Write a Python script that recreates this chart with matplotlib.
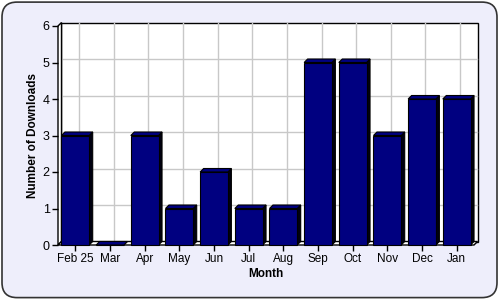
import matplotlib
matplotlib.use("Agg")
import matplotlib.pyplot as plt
from matplotlib.patches import Polygon, Rectangle, FancyBboxPatch

months = ["Feb 25", "Mar", "Apr", "May", "Jun", "Jul", "Aug", "Sep", "Oct", "Nov", "Dec", "Jan"]
downloads = [3, 0, 3, 1, 2, 1, 1, 5, 5, 3, 4, 4]
y_ticks = [0, 1, 2, 3, 4, 5, 6]

bar_color = "#000080"
side_color = "#000010"
bg_color = "#EEEEFB"

plt.rcParams["font.family"] = ["Liberation Sans", "DejaVu Sans"]

fig = plt.figure(figsize=(5, 3), dpi=100)
fig.patch.set_facecolor("white")

# rounded panel behind everything
panel = FancyBboxPatch((0.004, 0.008), 0.99, 0.985, boxstyle="round,pad=0,rounding_size=0.03",
                       transform=fig.transFigure, facecolor=bg_color, edgecolor="#333333",
                       linewidth=1.2, mutation_aspect=5 / 3, zorder=-5)
fig.patches.append(panel)

ax = fig.add_axes([58 / 500, 55 / 300, 416 / 500, 219 / 300])
ax.set_xlim(-0.5, 11.5)
ax.set_ylim(0, 6)
ax.patch.set_alpha(0)
for s in ax.spines.values():
    s.set_visible(False)

# depth of the 3d effect in data units (about 3.5 px)
dx = 3.5 * 12 / 416
dy = 3.5 * 6 / 219

# back wall
ax.add_patch(Rectangle((-0.5 + dx, dy), 12, 6, facecolor="white", edgecolor="black",
                       linewidth=1, clip_on=False, zorder=0))
for v in y_ticks[1:-1]:
    ax.plot([-0.5 + dx, 11.5 + dx], [v + dy, v + dy], color="#C8C8C8", lw=1, zorder=1, clip_on=False)
for i in range(len(months)):
    ax.plot([i + dx, i + dx], [dy, 6 + dy], color="#C8C8C8", lw=1, zorder=1, clip_on=False)

# left wall and floor
ax.add_patch(Polygon([(-0.5, 0), (-0.5 + dx, dy), (-0.5 + dx, 6 + dy), (-0.5, 6)],
                     closed=True, facecolor="white", edgecolor="black", lw=1, clip_on=False, zorder=1))
ax.add_patch(Polygon([(-0.5, 0), (11.5, 0), (11.5 + dx, dy), (-0.5 + dx, dy)],
                     closed=True, facecolor="white", edgecolor="black", lw=1, clip_on=False, zorder=1))

w = 0.8
for i, v in enumerate(downloads):
    x0 = i - w / 2
    x1 = i + w / 2
    ax.add_patch(Polygon([(x1, 0), (x1 + dx, dy), (x1 + dx, v + dy), (x1, v)],
                         closed=True, facecolor=side_color, edgecolor="black", lw=0.8, zorder=3, clip_on=False))
    ax.add_patch(Polygon([(x0, v), (x0 + dx, v + dy), (x1 + dx, v + dy), (x1, v)],
                         closed=True, facecolor=bar_color, edgecolor="black", lw=0.8, zorder=3, clip_on=False))
    ax.add_patch(Rectangle((x0, 0), w, v, facecolor=bar_color, edgecolor="black", lw=0.8, zorder=4, clip_on=False))

ax.set_xticks(range(len(months)))
ax.set_xticklabels(months, fontsize=8.5)
ax.set_yticks(y_ticks)
ax.set_yticklabels([str(t) for t in y_ticks], fontsize=9)
ax.tick_params(axis="both", length=4, width=1, color="black", pad=2)

ax.set_xlabel("Month", fontsize=8.5, fontweight="bold", labelpad=2)
ax.set_ylabel("Number of Downloads", fontsize=8.5, fontweight="bold", labelpad=3)

fig.savefig("out.png", dpi=100, facecolor=fig.get_facecolor())
